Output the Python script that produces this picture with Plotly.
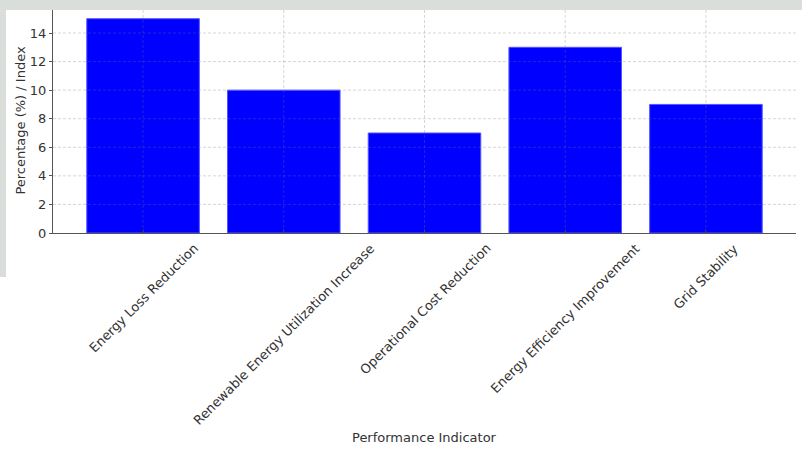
import plotly.graph_objects as go

categories = ["Energy Loss Reduction", "Renewable Energy Utilization Increase",
              "Operational Cost Reduction", "Energy Efficiency Improvement", "Grid Stability"]
values = [15, 10, 7, 13, 9]
y_ticks = [0, 2, 4, 6, 8, 10, 12, 14]

W, H = 802, 451
L, R, T, B = 53, 6, 8, 218
pw, ph = W - L - R, H - T - B

FONT = "DejaVu Sans"
TXT = "#333333"

def px_to_paper_x(px):
    return (px - L) / pw

def px_to_paper_y(py):
    return (H - B - py) / ph

fig = go.Figure(go.Bar(
    x=categories, y=values, width=0.8,
    marker=dict(color="#0000ff", line=dict(color="#5555ff", width=1)),
))

shapes = []
grid_col = "rgba(120,120,120,0.3)"
for t in y_ticks[1:]:
    shapes.append(dict(type="line", xref="paper", yref="y", x0=0, x1=1, y0=t, y1=t,
                       line=dict(color=grid_col, width=1, dash="3px,2px"), layer="above"))
for c in categories:
    shapes.append(dict(type="line", xref="x", yref="paper", x0=c, x1=c, y0=0, y1=1,
                       line=dict(color=grid_col, width=1, dash="3px,2px"), layer="above"))
# screenshot grey border (top band and left strip)
bg = "#d9dedb"
shapes.append(dict(type="rect", xref="paper", yref="paper",
                   x0=px_to_paper_x(0), x1=px_to_paper_x(W), y0=px_to_paper_y(10), y1=px_to_paper_y(0),
                   fillcolor=bg, line=dict(width=0), layer="above"))
shapes.append(dict(type="rect", xref="paper", yref="paper",
                   x0=px_to_paper_x(0), x1=px_to_paper_x(6), y0=px_to_paper_y(277), y1=px_to_paper_y(0),
                   fillcolor=bg, line=dict(width=0), layer="above"))

annotations = []
for c in categories:
    annotations.append(dict(x=c, y=0, xref="x", yref="paper", text=c, showarrow=False,
                            textangle=-45, xanchor="center", yanchor="top", yshift=-5,
                            font=dict(family=FONT, size=13, color=TXT)))
annotations.append(dict(x=0.5, y=px_to_paper_y(438), xref="paper", yref="paper",
                        text="Performance Indicator", showarrow=False,
                        xanchor="center", yanchor="middle",
                        font=dict(family=FONT, size=13, color=TXT)))

fig.update_layout(
    width=W, height=H,
    margin=dict(l=L, r=R, t=T, b=B, pad=0),
    paper_bgcolor="white", plot_bgcolor="white",
    showlegend=False,
    font=dict(family=FONT, size=13, color=TXT),
    shapes=shapes, annotations=annotations,
    bargap=0.2,
)
fig.update_xaxes(
    type="category", range=[-0.64, 4.64], showticklabels=False,
    showgrid=False, zeroline=False,
    showline=True, linecolor="#555555", linewidth=1,
    ticks="inside", ticklen=4, tickcolor="#333333",
)
fig.update_yaxes(
    range=[0, 15.75], tickvals=y_ticks, showgrid=False, zeroline=False,
    showline=True, linecolor="#555555", linewidth=1,
    ticks="outside", ticklen=3, tickcolor="#555555",
    tickfont=dict(family=FONT, size=13, color=TXT),
    title=dict(text="Percentage (%) / Index", standoff=1,
               font=dict(family=FONT, size=13, color=TXT)),
)

fig.write_html("out.html")
